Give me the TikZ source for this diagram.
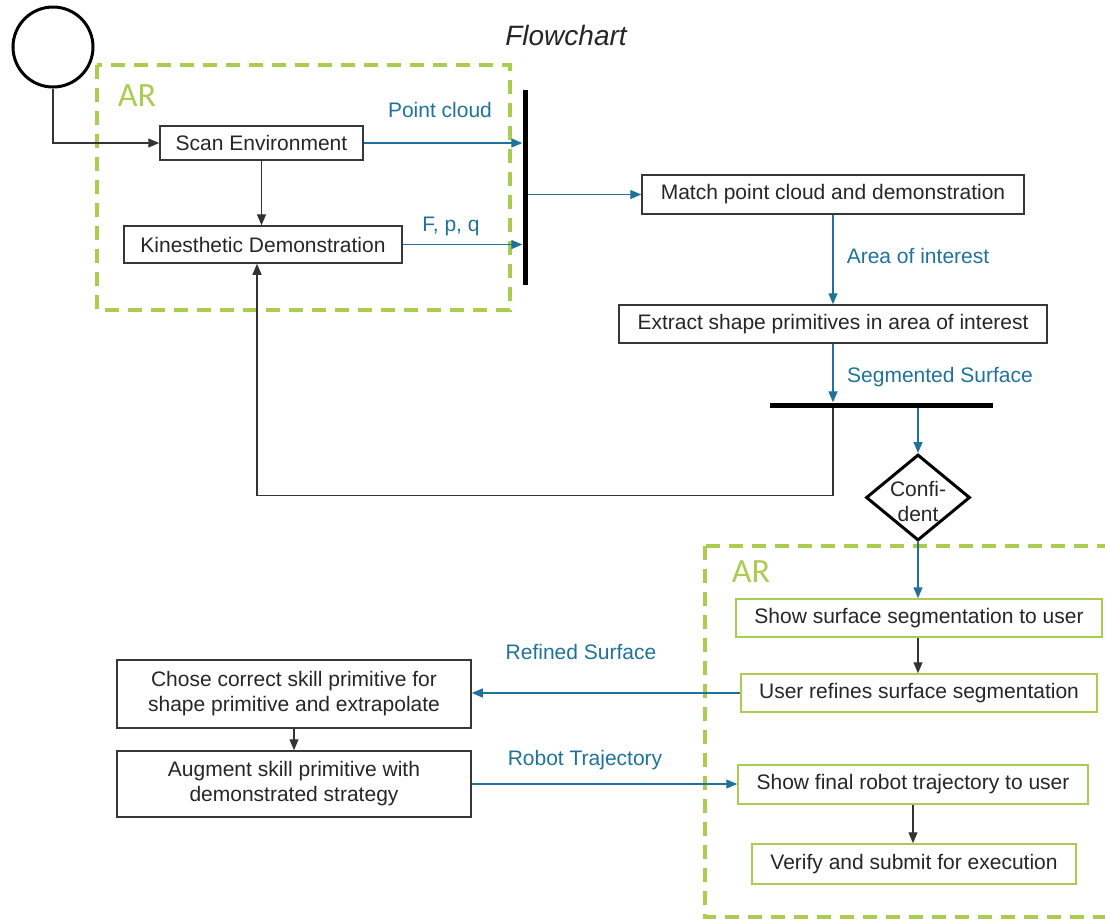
\documentclass[tikz,border=0pt]{standalone}
\usepackage{fontspec}
\setmainfont{Liberation Sans}
\newfontfamily\arfont{Carlito}
\usetikzlibrary{shapes.geometric,arrows.meta}
\definecolor{flowblue}{RGB}{31,115,155}
\definecolor{argreen}{RGB}{170,205,80}
\definecolor{boxline}{RGB}{55,55,55}
\begin{document}
\begin{tikzpicture}[x=1pt,y=-1pt,
  every node/.style={font=\fontsize{21}{25}\selectfont, text=black!85},
  box/.style={draw=boxline, line width=1.5pt, inner sep=2pt, align=center},
  gbox/.style={draw=argreen, line width=1.5pt, inner sep=2pt, align=center},
  bar/.style={fill=black, inner sep=0pt, draw=none},
  ardash/.style={draw=argreen, line width=3.5pt, dash pattern=on 14pt off 9pt},
  arlabel/.style={font=\arfont\fontsize{34}{38}\selectfont, text=argreen, inner sep=0pt},
  blab/.style={text=flowblue, inner sep=0pt},
  tip/.style={-{Triangle[length=11pt,width=9pt]}},
  blk/.style={tip, draw=black!80, line width=1.3pt},
  blu/.style={tip, draw=flowblue, line width=1.3pt, color=flowblue},
]
\useasboundingbox (0,0) rectangle (1105,922);

% AR regions
\draw[ardash] (97,65) rectangle (510,310);
\draw[ardash] (705,546) rectangle (1112,917);
\node[arlabel] (ar1) at (137,96) {AR};
\node[arlabel] (ar2) at (751,572) {AR};

% title
\node[inner sep=0pt, font=\itshape\fontsize{28}{32}\selectfont] (title) at (566,35) {Flowchart};

% start
\node[circle, draw=black, line width=3pt, minimum size=80pt, inner sep=0pt] (start) at (53,47) {};

% boxes
\node[box, minimum width=203pt, minimum height=34pt] (scan) at (261.5,143) {Scan Environment};
\node[box, minimum width=278pt, minimum height=37pt] (kin) at (263,244.5) {Kinesthetic Demonstration};
\node[box, minimum width=382pt, minimum height=39pt] (match) at (833,194.5) {Match point cloud and demonstration};
\node[box, minimum width=428pt, minimum height=38pt] (extract) at (833,324) {Extract shape primitives in area of interest};

\node[bar, minimum width=5pt, minimum height=195pt] (bar1) at (525,187.5) {};
\node[bar, minimum width=223pt, minimum height=5pt] (bar2) at (881.5,405) {};

\node[diamond, draw=black, line width=3pt, minimum width=104pt, minimum height=86pt, inner sep=0pt,
      label={[align=center, inner sep=0pt, yshift=-4pt, font=\fontsize{21}{25}\selectfont]center:Confi-\\dent}] (conf) at (918,497.5) {};

\node[gbox, minimum width=366pt, minimum height=38pt] (showseg) at (919,618) {Show surface segmentation to user};
\node[gbox, minimum width=356pt, minimum height=38pt] (refine) at (919,693) {User refines surface segmentation};
\node[gbox, minimum width=350pt, minimum height=39pt] (showtraj) at (913,784.5) {Show final robot trajectory to user};
\node[gbox, minimum width=324pt, minimum height=40pt] (verify) at (914,864) {Verify and submit for execution};

\node[box, minimum width=354pt, minimum height=68pt] (chose) at (294,694) {Chose correct skill primitive for\\shape primitive and extrapolate};
\node[box, minimum width=354pt, minimum height=66pt] (augment) at (294,784) {Augment skill primitive with\\demonstrated strategy};

% labels
\node[blab] (lpc) at (440,110) {Point cloud};
\node[blab] (lfpq) at (451,226) {F, p, q};
\node[blab] (laoi) at (918,256) {Area of interest};
\node[blab] (lseg) at (940,377) {Segmented Surface};
\node[blab] (lref) at (581,652) {Refined Surface};
\node[blab] (ltraj) at (585,760) {Robot Trajectory};

% connectors
\draw[blk] (start.south) |- (scan.west);
\draw[blk] (scan.south) -- (kin.north -| scan.south);
\draw[blu] (scan.east) -- (scan.east -| bar1.west);
\draw[blu] (kin.east) -- (kin.east -| bar1.west);
\draw[blu] (bar1.east |- match.west) -- (match.west);
\draw[blu] (match.south) -- (extract.north);
\draw[blu] (extract.south) -- (extract.south |- bar2.north);
\draw[blk] (extract.south |- bar2.south) -- ++(0,88) -| ([xshift=-6pt]kin.south);
\draw[blu] (bar2.south -| conf.north) -- (conf.north);
\draw[blu] (conf.south) -- (showseg.north -| conf.south);
\draw[blk] (showseg.south -| conf.south) -- (refine.north -| conf.south);
\draw[blu] (refine.west) -- (chose.east |- refine.west);
\draw[blk] (chose.south) -- (augment.north);
\draw[blu] (augment.east) -- (showtraj.west |- augment.east);
\draw[blk] (showtraj.south) -- (verify.north -| showtraj.south);
\end{tikzpicture}
\end{document}
